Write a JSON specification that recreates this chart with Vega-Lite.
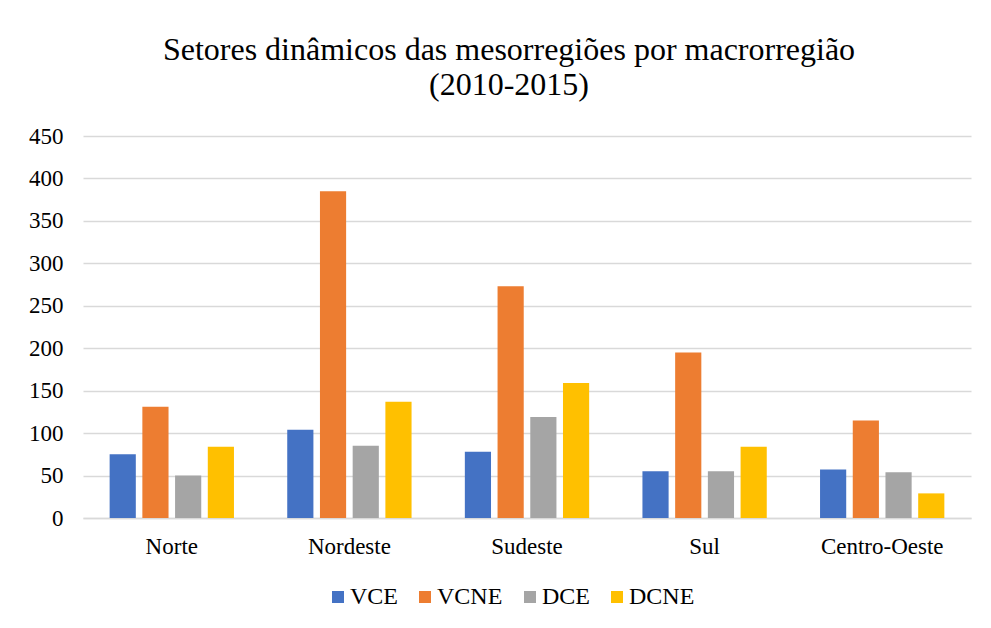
{
  "$schema": "https://vega.github.io/schema/vega-lite/v6.json",
  "width": 888,
  "height": 382,
  "autosize": {"type": "none"},
  "padding": {"left": 83, "top": 136, "right": 20, "bottom": 110},
  "background": "white",
  "title": {
    "text": ["Setores dinâmicos das mesorregiões por macrorregião", "(2010-2015)"],
    "font": "Liberation Serif",
    "fontSize": 32,
    "fontWeight": "normal",
    "color": "#000000",
    "lineHeight": 35,
    "anchor": "middle",
    "dx": -18,
    "offset": 23
  },
  "data": {
    "values": [
      {"regiao": "Norte", "setor": "VCE", "valor": 75},
      {"regiao": "Norte", "setor": "VCNE", "valor": 131},
      {"regiao": "Norte", "setor": "DCE", "valor": 50},
      {"regiao": "Norte", "setor": "DCNE", "valor": 84},
      {"regiao": "Nordeste", "setor": "VCE", "valor": 104},
      {"regiao": "Nordeste", "setor": "VCNE", "valor": 385},
      {"regiao": "Nordeste", "setor": "DCE", "valor": 85},
      {"regiao": "Nordeste", "setor": "DCNE", "valor": 137},
      {"regiao": "Sudeste", "setor": "VCE", "valor": 78},
      {"regiao": "Sudeste", "setor": "VCNE", "valor": 273},
      {"regiao": "Sudeste", "setor": "DCE", "valor": 119},
      {"regiao": "Sudeste", "setor": "DCNE", "valor": 159},
      {"regiao": "Sul", "setor": "VCE", "valor": 55},
      {"regiao": "Sul", "setor": "VCNE", "valor": 195},
      {"regiao": "Sul", "setor": "DCE", "valor": 55},
      {"regiao": "Sul", "setor": "DCNE", "valor": 84},
      {"regiao": "Centro-Oeste", "setor": "VCE", "valor": 57},
      {"regiao": "Centro-Oeste", "setor": "VCNE", "valor": 115},
      {"regiao": "Centro-Oeste", "setor": "DCE", "valor": 54},
      {"regiao": "Centro-Oeste", "setor": "DCNE", "valor": 29}
    ]
  },
  "mark": {"type": "bar"},
  "encoding": {
    "x": {
      "field": "regiao",
      "type": "nominal",
      "sort": ["Norte", "Nordeste", "Sudeste", "Sul", "Centro-Oeste"],
      "scale": {"paddingInner": 0.3, "paddingOuter": 0.15},
      "axis": {
        "title": null,
        "labelAngle": 0,
        "labelFont": "Liberation Serif",
        "labelFontSize": 23,
        "labelColor": "#000000",
        "labelPadding": 17,
        "ticks": false,
        "tickSize": 0,
        "domain": true,
        "domainColor": "#d9d9d9",
        "domainWidth": 1.3
      }
    },
    "xOffset": {
      "field": "setor",
      "type": "nominal",
      "sort": ["VCE", "VCNE", "DCE", "DCNE"],
      "scale": {"paddingInner": 0.2, "paddingOuter": 0}
    },
    "y": {
      "field": "valor",
      "type": "quantitative",
      "scale": {"domain": [0, 450], "nice": false},
      "axis": {
        "title": null,
        "values": [0, 50, 100, 150, 200, 250, 300, 350, 400, 450],
        "labelFont": "Liberation Serif",
        "labelFontSize": 23,
        "labelColor": "#000000",
        "labelPadding": 20,
        "ticks": false,
        "tickSize": 0,
        "domain": false,
        "grid": true,
        "gridColor": "#d9d9d9",
        "gridWidth": 1.3
      }
    },
    "color": {
      "field": "setor",
      "type": "nominal",
      "sort": ["VCE", "VCNE", "DCE", "DCNE"],
      "scale": {
        "domain": ["VCE", "VCNE", "DCE", "DCNE"],
        "range": ["#4472C4", "#ED7D31", "#A5A5A5", "#FFC000"]
      },
      "legend": {
        "title": null,
        "orient": "none",
        "direction": "horizontal",
        "legendX": 243,
        "legendY": 449,
        "padding": 0,
        "symbolType": "square",
        "symbolSize": 144,
        "symbolStrokeWidth": 0,
        "labelFont": "Liberation Serif",
        "labelFontSize": 24,
        "labelColor": "#000000",
        "labelOffset": 0,
        "columnPadding": 15
      }
    }
  },
  "config": {
    "view": {"stroke": null}
  }
}
